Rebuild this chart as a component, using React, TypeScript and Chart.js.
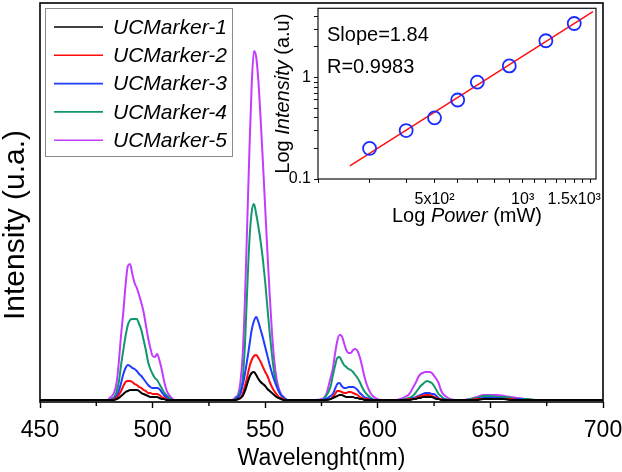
import React, { useEffect, useRef } from "react";
import { Chart, registerables } from "chart.js";

Chart.register(...registerables);

const FONT = "'Liberation Sans', Arial, Helvetica, sans-serif";

// ---------- main spectrum data ----------
const wavelength = [
  450, 455, 460, 465, 470, 475, 478, 480,
  481, 482, 483, 484, 485, 486, 487, 488, 489, 490, 491, 492, 493, 494, 495, 496, 497, 498, 499, 500, 501, 502, 503, 504, 505, 506, 507, 508, 509, 510,
  513, 516, 520, 525, 530, 533, 535,
  536, 537, 538, 539, 540, 541, 542, 543, 544, 545, 546, 547, 548, 549, 550, 551, 552, 553, 554, 555, 556, 557, 558, 559, 560,
  563, 566, 569, 572,
  575, 577, 579, 580, 581, 582, 583, 584, 585, 586, 587, 588, 589, 590, 591, 592, 593, 594, 595, 597, 599,
  602, 605, 608, 610,
  612, 614, 616, 617, 618, 619, 620, 621, 622, 623, 624, 625, 626, 627, 628, 629, 630, 632,
  635, 638, 641, 644, 647, 650, 653, 656, 659, 662, 666, 670, 680, 690, 700,
];

const ucMarker1 = [
  0, 0, 0, 0, 0, 0, 0, 0,
  0, 0, 0, 1, 2, 4, 6, 8, 9, 10, 10, 10, 10, 9, 7, 6, 5, 4, 3, 3, 3, 3, 2, 1, 1, 0, 0, 0, 0, 0,
  0, 0, 0, 0, 0, 0, 0,
  0, 0, 1, 2, 4, 9, 16, 23, 27, 28, 25, 21, 18, 16, 14, 11, 9, 7, 5, 3, 2, 1, 0, 0, 0,
  0, 0, 0, 0,
  0, 0, 1, 2, 3, 4, 5, 5, 4, 3, 3, 3, 3, 2, 2, 1, 1, 0, 0, 0, 0,
  0, 0, 0, 0,
  0, 0, 1, 1, 2, 2, 3, 3, 3, 3, 3, 2, 1, 1, 0, 0, 0, 0,
  0, 0, 0, 0, 1, 1, 1, 1, 0, 0, 0, 0, 0, 0, 0,
];

const ucMarker2 = [
  0, 0, 0, 0, 0, 0, 0, 0,
  0, 0, 1, 2, 5, 9, 14, 18, 19, 19, 18, 16, 15, 13, 12, 10, 9, 7, 7, 6, 6, 6, 5, 3, 2, 1, 0, 0, 0, 0,
  0, 0, 0, 0, 0, 0, 0,
  0, 0, 1, 2, 6, 14, 23, 33, 40, 44, 45, 42, 38, 33, 28, 24, 18, 13, 9, 6, 3, 2, 1, 0, 0,
  0, 0, 0, 0,
  0, 0, 1, 3, 6, 9, 9, 8, 7, 7, 8, 8, 7, 6, 5, 3, 2, 1, 1, 0, 0,
  0, 0, 0, 0,
  0, 1, 1, 2, 3, 4, 4, 5, 5, 5, 4, 3, 2, 1, 1, 0, 0, 0,
  0, 0, 0, 1, 1, 1, 1, 1, 1, 0, 0, 0, 0, 0, 0,
];

const ucMarker3 = [
  0, 0, 0, 0, 0, 0, 0, 0,
  0, 1, 2, 4, 9, 17, 26, 32, 35, 34, 32, 31, 29, 26, 24, 21, 18, 15, 13, 12, 12, 12, 11, 8, 5, 3, 1, 0, 0, 0,
  0, 0, 0, 0, 0, 0, 0,
  0, 1, 3, 6, 15, 26, 40, 55, 70, 79, 83, 78, 70, 62, 53, 44, 35, 27, 20, 14, 9, 5, 3, 1, 0,
  0, 0, 0, 0,
  0, 1, 4, 6, 11, 16, 17, 14, 12, 12, 13, 13, 13, 12, 10, 7, 5, 3, 2, 1, 0,
  0, 0, 0, 0,
  0, 1, 2, 3, 4, 5, 6, 7, 7, 7, 6, 6, 4, 2, 1, 1, 0, 0,
  0, 0, 0, 1, 2, 2, 2, 1, 1, 1, 0, 0, 0, 0, 0,
];

const ucMarker4 = [
  0, 0, 0, 0, 0, 0, 0, 0,
  0, 1, 3, 8, 18, 35, 50, 64, 75, 80, 81, 81, 81, 76, 70, 60, 50, 38, 31, 26, 22, 20, 16, 12, 8, 5, 3, 1, 0, 0,
  0, 0, 0, 0, 0, 0, 0,
  0, 2, 4, 10, 20, 55, 110, 160, 188, 196, 186, 173, 158, 140, 118, 92, 67, 45, 27, 16, 9, 5, 2, 1, 0,
  0, 0, 0, 0,
  0, 4, 13, 24, 34, 42, 43, 39, 35, 33, 31, 30, 28, 25, 22, 18, 13, 9, 6, 2, 0,
  0, 0, 0, 0,
  1, 2, 5, 8, 11, 14, 16, 18, 19, 18, 17, 14, 10, 6, 4, 2, 1, 0,
  0, 0, 1, 2, 4, 4, 3, 3, 2, 1, 1, 0, 0, 0, 0,
];

const ucMarker5 = [
  0, 0, 0, 0, 0, 0, 0, 0,
  2, 4, 8, 17, 38, 65, 88, 115, 134, 136, 126, 117, 112, 105, 97, 88, 75, 62, 52, 44, 43, 46, 40, 31, 20, 11, 6, 3, 1, 0,
  0, 0, 0, 0, 0, 0, 0,
  1, 3, 6, 18, 45, 100, 175, 250, 315, 349, 343, 318, 280, 237, 192, 147, 105, 68, 40, 22, 12, 6, 3, 1, 0,
  0, 0, 0, 0,
  1, 5, 22, 31, 46, 59, 65, 64, 57, 50, 47, 47, 50, 51, 49, 43, 34, 24, 16, 6, 2,
  0, 0, 0, 1,
  3, 6, 14, 18, 23, 26, 27, 28, 28, 28, 27, 24, 21, 17, 10, 6, 4, 1,
  0, 0, 1, 3, 5, 5, 5, 4, 3, 2, 1, 0, 0, 0, 0,
];

const seriesNames = ["UCMarker-1", "UCMarker-2", "UCMarker-3", "UCMarker-4", "UCMarker-5"];
const seriesValues = [ucMarker1, ucMarker2, ucMarker3, ucMarker4, ucMarker5];
const seriesColors = ["#000000", "#ff0a0a", "#1f3cff", "#12976a", "#c23cff"];

const xMajorTicks = [450, 500, 550, 600, 650, 700];
const xMinorTicks = [475, 525, 575, 625, 675];

// ---------- inset data ----------
const powerMW = [300, 400, 500, 600, 700, 900, 1200, 1500];
const intensityAU = [0.2, 0.3, 0.4, 0.6, 0.9, 1.3, 2.3, 3.4];
const fitPower = [257, 1738];
const fitIntensity = [0.135, 4.44];
const insetXTicks = [200, 300, 400, 500, 600, 700, 800, 900, 1000, 1100, 1200, 1300, 1400, 1500, 1600, 1700];
const insetXLabelValues = [500, 1000, 1500];
const insetXLabelTexts = ["5x10²", "10³", "1.5x10³"];
const insetYTicks = [0.1, 0.2, 0.3, 0.4, 0.5, 0.6, 0.7, 0.8, 0.9, 1, 2, 3, 4];
const insetYLabelValues = [0.1, 1];
const insetYLabelTexts = ["0.1", "1"];
const slopeText = "Slope=1.84";
const rText = "R=0.9983";

type Part = { text: string; italic?: boolean };

function drawMixed(ctx: CanvasRenderingContext2D, parts: Part[], size: number) {
  let total = 0;
  const widths = parts.map((p) => {
    ctx.font = `${p.italic ? "italic " : ""}${size}px ${FONT}`;
    const w = ctx.measureText(p.text).width;
    total += w;
    return w;
  });
  let x = -total / 2;
  ctx.textAlign = "left";
  parts.forEach((p, i) => {
    ctx.font = `${p.italic ? "italic " : ""}${size}px ${FONT}`;
    ctx.fillText(p.text, x, 0);
    x += widths[i];
  });
}

const mainDecor = {
  id: "mainDecor",
  afterDraw(chart: any) {
    const { ctx, chartArea } = chart;
    const { left, top, right, bottom } = chartArea;
    const xs = chart.scales.x;
    ctx.save();
    // frame
    ctx.strokeStyle = "#000";
    ctx.lineWidth = 1.6;
    ctx.strokeRect(left, top, right - left, bottom - top);
    // minor ticks
    ctx.lineWidth = 1.4;
    ctx.beginPath();
    xMinorTicks.forEach((v) => {
      const px = xs.getPixelForValue(v);
      ctx.moveTo(px, bottom);
      ctx.lineTo(px, bottom + 4);
    });
    ctx.stroke();
    // y title
    ctx.save();
    ctx.translate(left - 24, top + 222);
    ctx.rotate(-Math.PI / 2);
    ctx.fillStyle = "#000";
    ctx.font = `30px ${FONT}`;
    ctx.textAlign = "center";
    ctx.textBaseline = "middle";
    ctx.fillText("Intensity (u.a.)", 0, 0);
    ctx.restore();
    // legend
    const lx = left + 5;
    const ly = top + 5;
    ctx.strokeStyle = "#8a8a8a";
    ctx.lineWidth = 1;
    ctx.strokeRect(lx + 0.5, ly + 0.5, 187, 148);
    seriesNames.forEach((name, i) => {
      const ry = ly + 19 + i * 28.3;
      ctx.strokeStyle = seriesColors[i];
      ctx.lineWidth = 1.6;
      ctx.beginPath();
      ctx.moveTo(lx + 9, ry);
      ctx.lineTo(lx + 58, ry);
      ctx.stroke();
      ctx.fillStyle = "#000";
      ctx.font = `italic 21px ${FONT}`;
      ctx.textAlign = "left";
      ctx.textBaseline = "middle";
      ctx.fillText(name, lx + 68, ry + 1);
    });
    ctx.restore();
  },
};

const insetDecor = {
  id: "insetDecor",
  afterDraw(chart: any) {
    const { ctx, chartArea } = chart;
    const { left, top, right, bottom } = chartArea;
    ctx.save();
    ctx.strokeStyle = "#111";
    ctx.lineWidth = 1.2;
    ctx.strokeRect(left, top, right - left, bottom - top);
    ctx.fillStyle = "#000";
    ctx.textBaseline = "alphabetic";
    ctx.font = `20px ${FONT}`;
    ctx.textAlign = "left";
    ctx.fillText(slopeText, left + 9, top + 33);
    ctx.fillText(rText, left + 9, top + 65);
    // x title
    ctx.save();
    ctx.translate(left + 149, bottom + 43);
    drawMixed(ctx, [{ text: "Log " }, { text: "Power", italic: true }, { text: " (mW)" }], 20);
    ctx.restore();
    // y title
    ctx.save();
    ctx.translate(left - 29, (top + bottom) / 2);
    ctx.rotate(-Math.PI / 2);
    drawMixed(ctx, [{ text: "Log " }, { text: "Intensity", italic: true }, { text: " (a.u)" }], 20);
    ctx.restore();
    ctx.restore();
  },
};

export default function App() {
  const mainRef = useRef<HTMLCanvasElement | null>(null);
  const insetRef = useRef<HTMLCanvasElement | null>(null);

  useEffect(() => {
    if (!mainRef.current || !insetRef.current) return;
    const main = new Chart(mainRef.current, {
      type: "line",
      data: {
        datasets: seriesNames.map((name, i) => ({
          label: name,
          data: wavelength.map((w, k) => ({ x: w, y: seriesValues[i][k] })),
          borderColor: seriesColors[i],
          backgroundColor: seriesColors[i],
          borderWidth: 2,
          pointRadius: 0,
          cubicInterpolationMode: "monotone" as const,
          fill: false,
        })),
      },
      options: {
        animation: false,
        responsive: false,
        devicePixelRatio: 1,
        layout: { padding: { left: 0, right: 19, top: 3, bottom: 0 } },
        plugins: { legend: { display: false }, tooltip: { enabled: false } },
        scales: {
          x: {
            type: "linear",
            min: 450,
            max: 700,
            afterBuildTicks: (s: any) => {
              s.ticks = xMajorTicks.map((v) => ({ value: v }));
            },
            afterFit: (s: any) => {
              s.height = 70;
              s.paddingLeft = 0;
              s.paddingRight = 0;
            },
            ticks: {
              color: "#000",
              font: { family: FONT, size: 23 },
              padding: 9,
              maxRotation: 0,
              autoSkip: false,
            },
            grid: { drawOnChartArea: false, drawTicks: true, tickLength: 6, tickWidth: 1.4, color: "#000" },
            border: { display: false },
            title: {
              display: true,
              text: "Wavelenght(nm)",
              color: "#000",
              font: { family: FONT, size: 23 },
              padding: { top: 0, bottom: 0 },
            },
          },
          y: {
            min: -2,
            max: 397,
            afterFit: (s: any) => {
              s.width = 40;
              s.paddingTop = 0;
              s.paddingBottom = 0;
            },
            ticks: { display: false },
            grid: { display: false },
            border: { display: false },
          },
        },
      },
      plugins: [mainDecor],
    } as any);

    const inset = new Chart(insetRef.current, {
      type: "scatter",
      data: {
        datasets: [
          {
            label: "data",
            data: powerMW.map((p, i) => ({ x: p, y: intensityAU[i] })),
            pointRadius: 6.5,
            pointBorderWidth: 1.8,
            borderColor: "#1a2cff",
            backgroundColor: "rgba(0,0,0,0)",
            showLine: false,
          },
          {
            label: "fit",
            data: fitPower.map((p, i) => ({ x: p, y: fitIntensity[i] })),
            pointRadius: 0,
            borderColor: "#ff1010",
            borderWidth: 1.5,
            showLine: true,
          },
        ],
      },
      options: {
        animation: false,
        responsive: false,
        devicePixelRatio: 1,
        layout: { padding: { left: 278, right: 26, top: 6, bottom: 248 } },
        plugins: { legend: { display: false }, tooltip: { enabled: false } },
        scales: {
          x: {
            type: "logarithmic",
            min: 200,
            max: 1780,
            afterBuildTicks: (s: any) => {
              s.ticks = insetXTicks.map((v) => ({ value: v }));
            },
            afterFit: (s: any) => {
              s.height = 45;
              s.paddingLeft = 0;
              s.paddingRight = 0;
            },
            ticks: {
              color: "#000",
              font: { family: FONT, size: 16 },
              padding: 7,
              maxRotation: 0,
              autoSkip: false,
              callback: (v: any) => {
                const idx = insetXLabelValues.indexOf(Number(v));
                return idx >= 0 ? insetXLabelTexts[idx] : "";
              },
            },
            grid: { drawOnChartArea: false, drawTicks: true, tickLength: 4, color: "#111" },
            border: { display: false },
          },
          y: {
            type: "logarithmic",
            min: 0.1,
            max: 4.8,
            afterBuildTicks: (s: any) => {
              s.ticks = insetYTicks.map((v) => ({ value: v }));
            },
            afterFit: (s: any) => {
              s.width = 40;
              s.paddingTop = 0;
              s.paddingBottom = 0;
            },
            ticks: {
              color: "#000",
              font: { family: FONT, size: 16 },
              padding: 3,
              autoSkip: false,
              callback: (v: any) => {
                const idx = insetYLabelValues.indexOf(Number(v));
                return idx >= 0 ? insetYLabelTexts[idx] : "";
              },
            },
            grid: { drawOnChartArea: false, drawTicks: true, tickLength: 4, color: "#111" },
            border: { display: false },
          },
        },
      },
      plugins: [insetDecor],
    } as any);

    return () => {
      main.destroy();
      inset.destroy();
    };
  }, []);

  return (
    <div style={{ position: "fixed", left: 0, top: 0, width: 622, height: 472, background: "#fff" }}>
      <canvas ref={mainRef} width={622} height={472} style={{ position: "absolute", left: 0, top: 0 }} />
      <canvas
        ref={insetRef}
        width={622}
        height={472}
        style={{ position: "absolute", left: 0, top: 0, pointerEvents: "none" }}
      />
    </div>
  );
}
